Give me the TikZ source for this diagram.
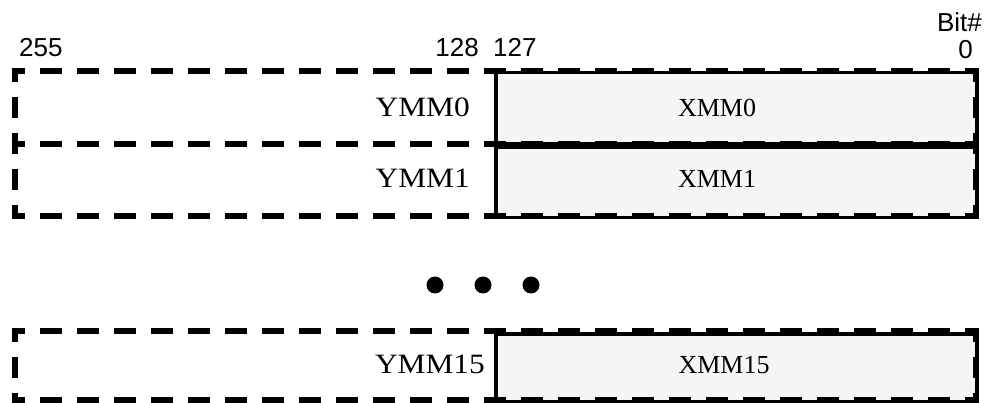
\documentclass[tikz,border=0pt]{standalone}
\usepackage{fontspec}
\setmainfont{Liberation Serif}
\newfontfamily\ymmfont[FakeStretch=1.12]{Liberation Serif}
\newfontfamily\xmmfont{Liberation Serif}
\newfontfamily\numfont{Liberation Sans}
\definecolor{xmmfill}{HTML}{F5F5F5}
\begin{document}
\begin{tikzpicture}[x=1pt,y=-1pt,
  hdash/.style={line width=6pt, dash pattern=on 22pt off 15pt, dash phase=8.5pt},
  vdash/.style={line width=6pt, dash pattern=on 21pt off 15pt, dash phase=7pt},
  xmmbox/.style={draw=black, line width=3.5pt, fill=xmmfill, inner sep=0pt, anchor=north west},
  ymmlabel/.style={font=\ymmfont\fontsize{28}{30}\selectfont, inner sep=0pt, anchor=base east},
  xmmlabel/.style={font=\xmmfont\fontsize{26}{28}\selectfont, inner sep=0pt, anchor=base},
  bitlabel/.style={font=\numfont\fontsize{26}{28}\selectfont, inner sep=0pt},
  dotmark/.style={circle, fill=black, inner sep=0pt, minimum size=17pt}
]
\useasboundingbox (0,0) rectangle (987,403);

% XMM boxes
\node[xmmbox, minimum width=481pt, minimum height=71.5pt] (xb0) at (494,71) {};
\node[xmmbox, minimum width=481pt, minimum height=70.5pt] (xb1) at (494,145.5) {};
\node[xmmbox, minimum width=481pt, minimum height=68pt] (xb15) at (494,332) {};

% corner coordinates of the YMM (dashed) outlines
\coordinate (tl) at (11.5,71);   \coordinate (tr) at (979,71);
\coordinate (ml) at (11.5,144);  \coordinate (mr) at (979,144);
\coordinate (bl) at (11.5,216);  \coordinate (br) at (979,216);
\coordinate (lt) at (14.5,68);   \coordinate (lb) at (14.5,219);
\coordinate (rt) at (976,68);    \coordinate (rb) at (976,219);

\coordinate (tl2) at (11.5,331); \coordinate (tr2) at (979,331);
\coordinate (bl2) at (11.5,400); \coordinate (br2) at (979,400);
\coordinate (lt2) at (14.5,328); \coordinate (lb2) at (14.5,403);
\coordinate (rt2) at (976,328);  \coordinate (rb2) at (976,403);

% dashed YMM outlines
\draw[hdash] (tl) -- (tr);
\draw[hdash] (ml) -- (mr);
\draw[hdash] (bl) -- (br);
\draw[vdash] (lt) -- (lb);
\draw[vdash] (rt) -- (rb);

\draw[hdash] (tl2) -- (tr2);
\draw[hdash] (bl2) -- (br2);
\draw[vdash] (lt2) -- (lb2);
\draw[vdash] (rt2) -- (rb2);

% labels
\node[ymmlabel] (y0) at (470,117) {YMM0};
\node[ymmlabel] (y1) at (470,188) {YMM1};
\node[ymmlabel] (y15) at (485,373) {YMM15};
\node[xmmlabel] (x0) at (717,117) {XMM0};
\node[xmmlabel] (x1) at (717,188) {XMM1};
\node[xmmlabel] (x15) at (724,373) {XMM15};

\node[bitlabel, anchor=base west] (b255) at (19,57) {255};
\node[bitlabel, anchor=base east] (b128) at (479,57) {128};
\node[bitlabel, anchor=base west] (b127) at (493,57) {127};
\node[bitlabel, anchor=base east] (bit) at (982,32) {Bit\#};
\node[bitlabel, anchor=base east] (b0) at (973,59) {0};

% ellipsis dots
\node[dotmark] (d1) at (435,285) {};
\node[dotmark] (d2) at (483,285) {};
\node[dotmark] (d3) at (531,285) {};
\end{tikzpicture}
\end{document}
